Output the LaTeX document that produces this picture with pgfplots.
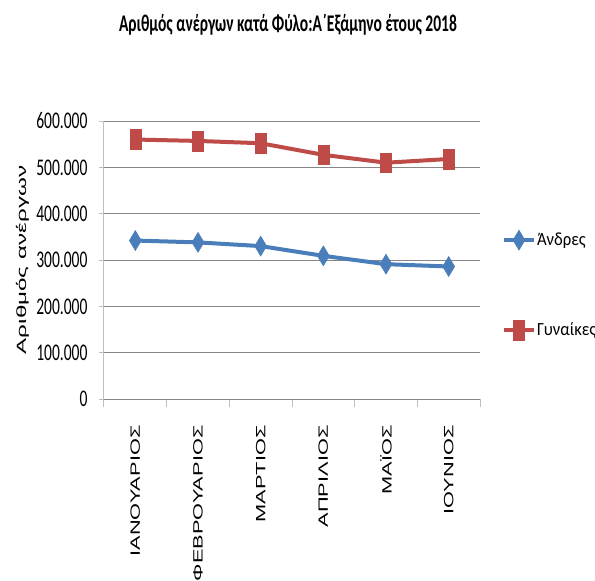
\documentclass[border=0pt]{standalone}
\usepackage{pgfplots}
\pgfplotsset{compat=1.18}
\usepackage{fontspec}
\setmainfont{Carlito}
% the reference is stretched vertically, so horizontal text is narrowed
% and rotated text is widened
\newfontfamily\calt[FakeStretch=0.65]{Carlito}
\newfontfamily\call[FakeStretch=0.9]{Carlito}
\newfontfamily\arv[FakeStretch=1.62]{Liberation Sans}
\newfontfamily\arvy[FakeStretch=1.8]{Liberation Sans}

\definecolor{andblue}{HTML}{4A7EBB}
\definecolor{gynred}{HTML}{BE4B48}
\definecolor{gridc}{HTML}{868686}
\definecolor{axc}{HTML}{BFBFBF}

\begin{document}
\begin{tikzpicture}
\path[use as bounding box] (-104bp,-182bp) rectangle (491bp,399bp);
\begin{axis}[
  scale only axis, width=376bp, height=278bp,
  xmin=-0.5, xmax=5.5, ymin=0, ymax=600000,
  clip=false,
  axis x line*=bottom, axis y line*=left,
  x axis line style={gridc, line width=1bp, -},
  y axis line style={axc, line width=1bp, -},
  xtick={0,...,5},
  xticklabels={ΙΑΝΟΥΑΡΙΟΣ,ΦΕΒΡΟΥΑΡΙΟΣ,ΜΑΡΤΙΟΣ,ΑΠΡΙΛΙΟΣ,ΜΑΪΟΣ,ΙΟΥΝΙΟΣ},
  minor xtick={-0.5,0.5,...,5.5},
  major x tick style={draw=none},
  minor x tick style={axc, line width=1bp},
  minor tick length=8bp,
  ytick={0,100000,...,600000},
  major y tick style={axc, line width=1bp},
  major tick length=5bp,
  tick align=outside,
  scaled y ticks=false,
  /pgf/number format/fixed,
  /pgf/number format/1000 sep={.},
  /pgf/number format/assume math mode=true,
  yticklabel style={font=\calt\fontsize{24}{26}\selectfont, xshift=-8bp},
  xticklabel style={font=\arv\fontsize{13.5}{15}\selectfont, rotate=90, anchor=east},
  xticklabel shift=18bp,
  ymajorgrids, major grid style={gridc, line width=1bp},
  legend style={at={(rel axis cs:1.058,0.41)}, anchor=west, draw=none, fill=none,
    inner sep=0pt, row sep=70bp, nodes={inner sep=1bp},
    font=\call\fontsize{18.6}{20}\selectfont},
  legend cell align=left,
  legend image code/.code={\draw[mark repeat=2, mark phase=2] plot coordinates {(0bp,0bp) (15bp,0bp) (30bp,0bp)};},
]
\addplot[andblue, line width=4bp, mark=diamond*, mark size=10bp,
  mark options={xscale=0.8, solid, line width=0.5bp}] coordinates {
  (0,342000) (1,338000) (2,330000) (3,309000) (4,291000) (5,286000)
};
\addlegendentry{Άνδρες}
\addplot[gynred, line width=4bp, mark=square*, mark size=5.5bp,
  mark options={yscale=1.8, solid, line width=0.5bp}] coordinates {
  (0,560000) (1,557000) (2,552000) (3,527000) (4,510000) (5,518000)
};
\addlegendentry{Γυναίκες}
\node[font=\calt\bfseries\fontsize{24}{26}\selectfont] at (axis cs:2.436,807000)
  {Αριθμός ανέργων κατά Φύλο:Α΄Εξάμηνο έτους 2018};
\node[rotate=90, font=\arvy\fontsize{13.5}{15}\selectfont] at (axis cs:-1.80,300000)
  {Αριθμός ανέργων};
\end{axis}
\end{tikzpicture}
\end{document}
